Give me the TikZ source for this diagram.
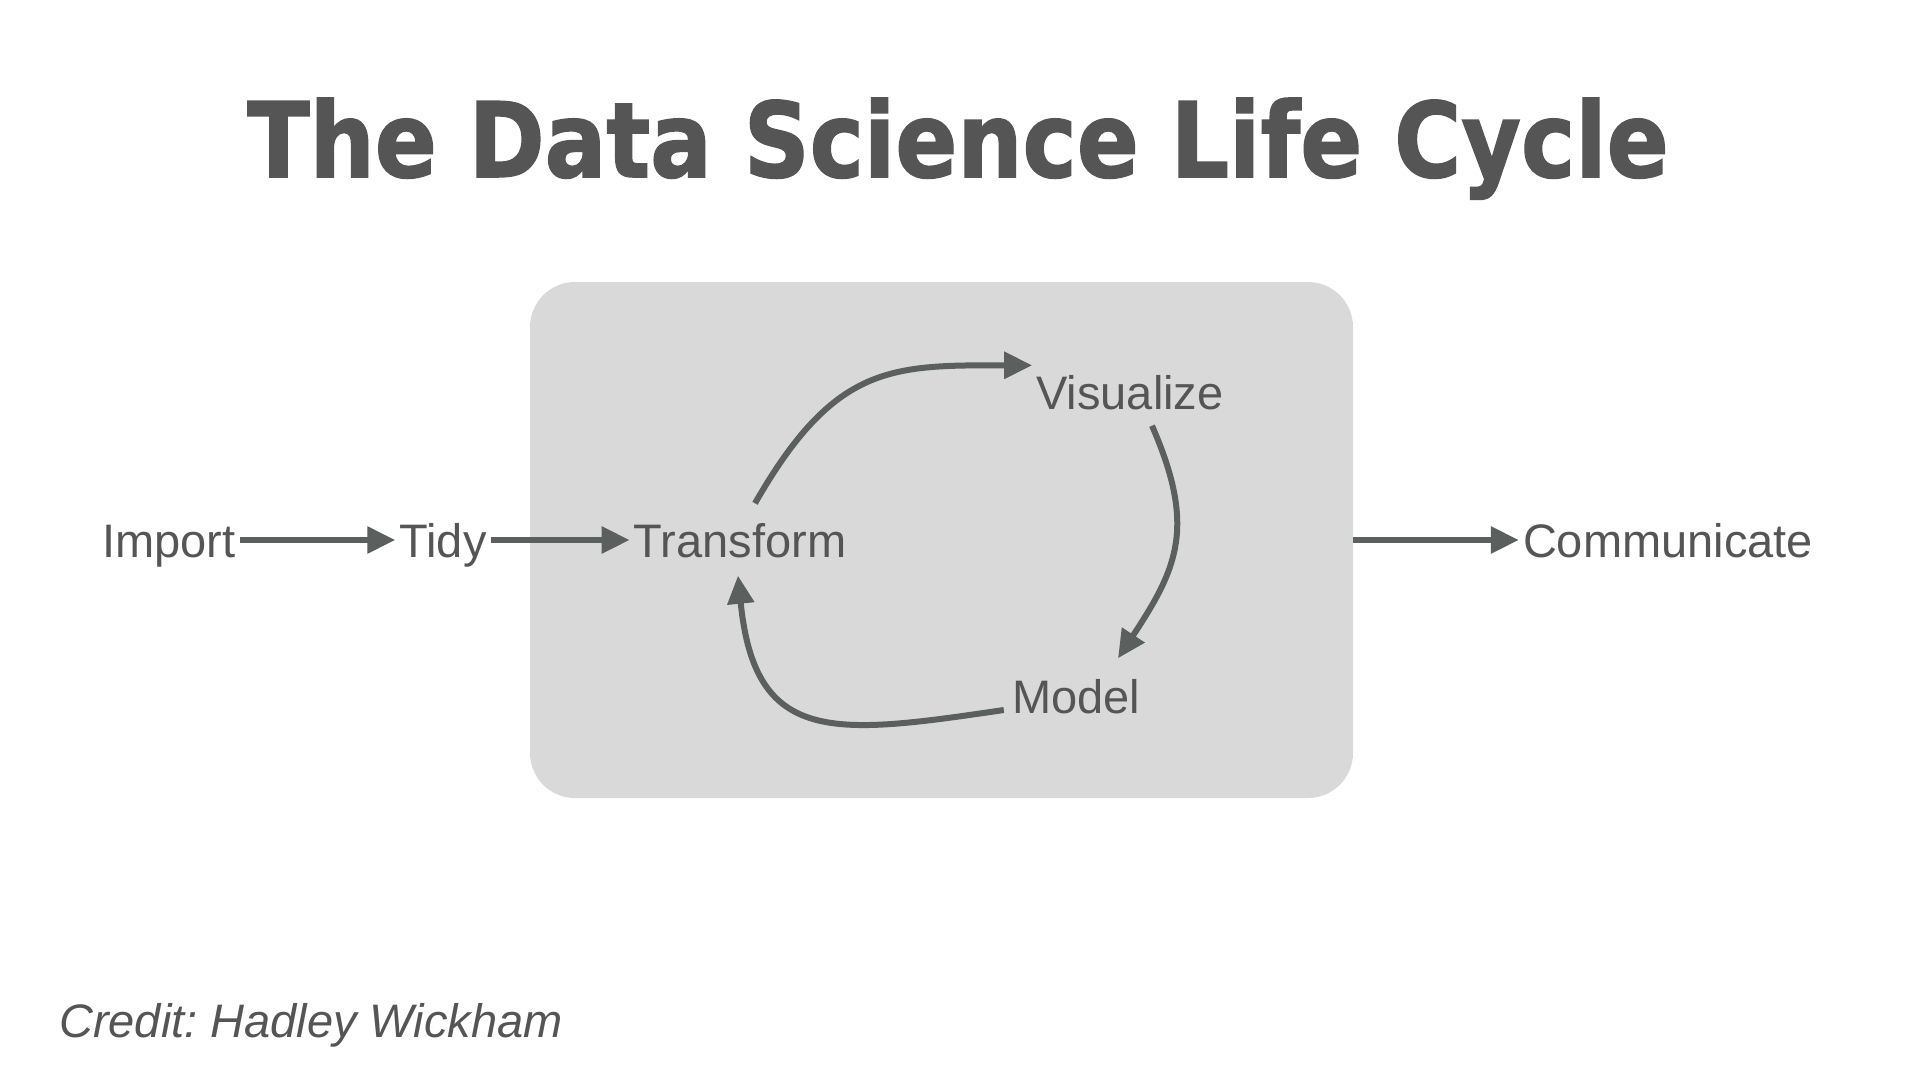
\documentclass[tikz,border=0pt]{standalone}
\usepackage{fontspec}
\setmainfont{Liberation Sans}
\newfontfamily\titlefont{DejaVu Sans}[BoldFeatures={FakeBold=1.5}]
\usetikzlibrary{calc,arrows.meta}
\definecolor{inkgray}{HTML}{555555}
\definecolor{arrowgray}{HTML}{5B5F5E}
\definecolor{boxgray}{HTML}{D9D9D9}
\tikzset{
  stage/.style={text=inkgray,font=\fontsize{47}{50}\selectfont,inner sep=4pt,text height=35pt,text depth=0pt},
  flow/.style={draw=arrowgray,line width=6pt,-{Triangle[length=28pt,width=26pt]}}
}
\frenchspacing

\begin{document}
\begin{tikzpicture}[x=1pt,y=-1pt]
\useasboundingbox (0,0) rectangle (1920,1080);
\node[text=inkgray,font=\titlefont\bfseries\fontsize{104}{112}\selectfont,inner sep=0pt,text height=76pt,text depth=0pt] (title) at (958,139) {\scalebox{0.88}[1]{The Data Science Life Cycle}};
\node[fill=boxgray,rounded corners=45pt,minimum width=823pt,minimum height=516pt] (lifecycle) at (941.5,540) {};
% stages
\node[stage] (import) at (169,540) {Import};
\node[stage] (tidy) at (443,540) {Tidy};
\node[stage] (transform) at (740,540) {Transform};
\node[stage] (visualize) at (1130,392) {Visualize};
\node[stage] (model) at (1076,696) {Model};
\node[stage] (communicate) at (1668,540) {Communicate};
\node[text=inkgray,font=\fontsize{47}{50}\selectfont\itshape,inner sep=0pt,anchor=base west] (credit) at (59,1037) {Credit: Hadley Wickham};
% connectors
\draw[flow] (import) -- (tidy);
\draw[flow] (tidy) -- (transform);
\draw[flow] (lifecycle) -- (communicate);
\draw[flow] ($(transform.north)+(15,-15)$) .. controls +(80,-140) and +(-140,0) .. ($(visualize.north west)+(0,-5)$);
\draw[flow] ($(visualize.south)+(22,12)$) .. controls +(44,101) and +(60,-91) .. ($(model.north)+(42,-16)$);
\draw[flow] ($(model.west)+(-4,14)$) .. controls +(-170,25) and +(17,170) .. ($(transform.south)+(-2,14)$);
\end{tikzpicture}
\end{document}
